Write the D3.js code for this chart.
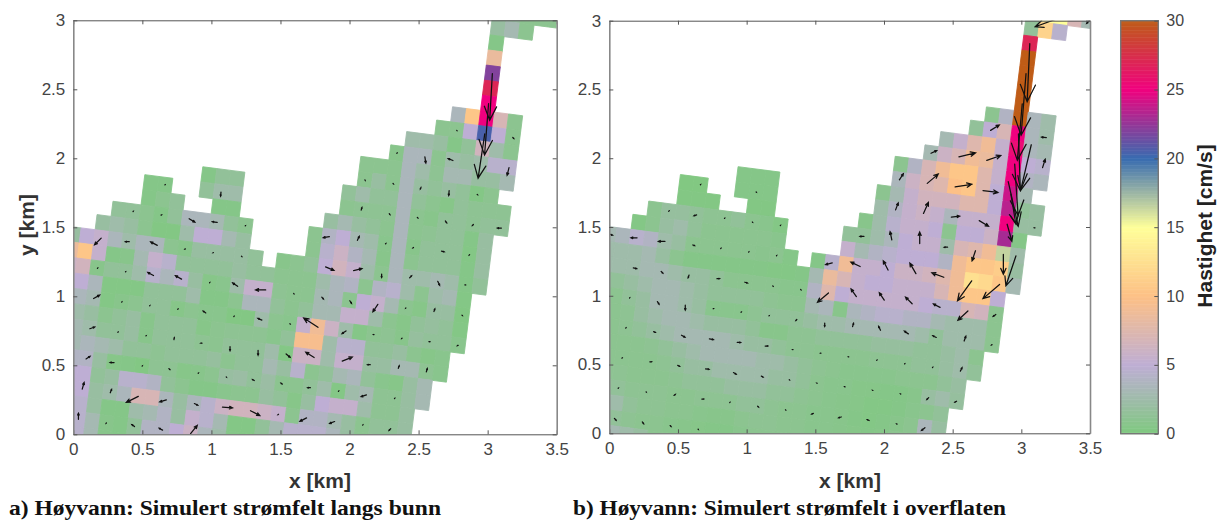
<!DOCTYPE html>
<html><head><meta charset="utf-8">
<script src="https://cdn.jsdelivr.net/npm/d3@7"></script>
<style>html,body{margin:0;padding:0;background:#fff}svg{display:block}</style>
</head><body><div id="chart"></div>
<script>
// Rows of the rotated model grid: [row, first column, speeds in cm/s]
const bottomRows = [
[-3,0,[2,2,1,1,1]],[-2,0,[2,3,1]],[-1,0,[.5]],[0,0,[8.5]],[1,0,[22]],[2,0,[27]],[3,0,[25]],
[4,-2,[3.5,10.5,25,7,1]],[5,-3,[1,1,5,20.5,5,1]],[6,-5,[2.5,2.5,2,.5,1.5,6.5,2.5,1]],
[7,-6,[.7,3.5,3.5,1,2.5,2,2.5,4.5,4.5]],[8,-8,[1,1,1,3.5,2.5,1.2,3,3,2,2,3]],
[9,-8,[1,2,1,3.5,2,1.5,2,1.5,.4,1]],[10,-19,[.5,1.5,1.5]],[10,-9,[1.5,2.5,1.5,1.5,3.5,1.5,1,.6,1.5,1.2,1.2,1.2]],
[11,-23,[.5,.5]],[11,-19,[1.5,2.5,2.5]],[11,-9,[1,1.2,1.2,1.2,3.5,1,.7,1.5,1.5,1.2,1.5,1.5]],
[12,-23,[.5,1,1.5]],[12,-18,[.5,.5]],[12,-10,[2,3,2,1.5,1,3.5,1,1.2,1.5,1.5,.5,2]],
[13,-25,[1.5,1.5,1,.5,1.5,3.5,3.5,3,1.5,1]],[13,-11,[1,4,5,3,2.5,.8,3.5,.7,1.5,1.5,1.5,.4,2]],
[14,-26,[2,2.5,2,1,.3,.3,2.5,5,5,3,2]],[14,-11,[1,4.5,6,4,3,.7,3.5,1,1.5,1.5,1.5,.5,2]],
[15,-28,[2,5,5.5,3.5,2.5,3.5,3.5,1,.7,2,2,2,2,1.5]],[15,-13,[.7,1,1.5,5,6.5,5.5,2.5,1,3.5,2.5,2.5,3,2.5,.5,1.5]],
[16,-28,[8.5,10.5,5.5,.5,.7,3,5.5,4.5,1.5,1.5,1.5,1.5,2,1.5,1.5,1,1,1,2.5,3.5,4,1,4,4.5,2.5,1,2.5,3,.4]],
[17,-28,[6,6.5,.7,1.5,1.5,2.5,4.5,3.5,4.5,2,.6,.8,2.5,5.5,5.5,1.2,1,1,3,3.5,1,5,5.5,3,1,.6,2,2,.3]],
[18,-28,[5.5,5,3.5,.4,.4,.4,1.5,1.5,1.5,2.5,.5,.5,1,3.5,3.5,1.5,1,1.5,3,3,5.5,5.5,2.5,1,.6,1.5,1.8,1.5,.4]],
[19,-28,[3,3.5,3,.4,.7,1,1.5,1.5,.6,1,.8,.8,.3,.3,2.5,1,.8,5.5,9,6,2.5,.5,1,1.2,.7,1.8,1.5,1.5,.8]],
[20,-28,[3,2.5,2,1,1.5,2,.7,1.5,1.5,1.5,.6,1,1.2,1.2,1.2,.8,1.5,9.5,9.5,2.5,4.5,4.5,1.5,1.5,2,1,.6,.8]],
[21,-28,[3,3,2.5,1.5,1.5,2,.7,1.5,1.5,1.5,1.2,1,1.5,1.5,1.5,2.5,.4,6,6,2.5,5.5,5.5,2,2,3,3,1.2,.8]],
[22,-27,[3,3.5,3,2.5,1.5,1.5,1.2,1.5,1.5,1.5,1.8,1,1.5,1.5,3,2,4.5,1,1.5,3,3.5,1.5,.8,.6,2,3]],
[23,-27,[4,4,2,.6,.5,.3,1.2,1.2,.6,.7,1,2,2.2,1.5,2.2,1,1,1.5,2.5,.4,2.5,3,1.2,1.2,2,3]],
[24,-27,[5,5,1.5,2,4.5,4.5,4,1.5,1,.5,.5,.8,1,1,2,1.5,.6,2,5,5.5,5.5,2.5,1.2,1.2,2]],
[25,-27,[5,5,2,2.5,3.5,7,7,3.5,2,3.5,4.5,6,6.5,6.5,6,5.5,1,4,4,3,2,1,1.5,1.5,2]],
[26,-26,[4.5,2,.5,.5,2.5,3,4,2,5.5,4.5,3,.4,.4,1.5,3,4.5,4.5,4.5,3.5,2,1,1.5,1.5,2]],
[27,-26,[4.5,3,.7,.5,1.5,4,4,5,6,3.5,2.5,.5,.4,.5,1,3.5,3]],
[28,-26,[4.5,3,.7,.5,1.5,4,4]]
];
const surfaceRows = [
[-3,0,[2,15,15,7,3]],[-2,0,[1.5,11.5,4.5]],[-1,0,[27]],[0,0,[30]],[1,0,[30]],[2,0,[30]],[3,0,[30]],
[4,-2,[1,4,30,3.5,2.5]],[5,-3,[1.5,5,7,25,3.5,2.5]],[6,-5,[3,5.5,7.5,9,5.5,25.5,3.5,3]],
[7,-6,[3,6,7,9,8.5,5.5,25,5,4.5]],[8,-8,[1,4,7,9,10.5,10.5,7.5,5.5,25,4,3.5]],
[9,-8,[3.5,6,7,7.5,10,10.5,7.5,5,24,3]],[10,-19,[.5,.5,.5]],[10,-9,[1,3,5.5,6.5,6.5,6.5,7.5,7.5,5,23.5,1.5,2]],
[11,-23,[.2,.2]],[11,-19,[.5,.5,.5]],[11,-9,[2.5,4,5.5,6,5.5,3.5,5.5,5.5,5.5,25,2,2]],
[12,-23,[.3,.3,.3]],[12,-18,[.3,.3]],[12,-10,[.7,2.5,4.5,5.5,5.5,5,1,5,5,6,23,.5]],
[13,-25,[1,1.8,1.8,1.5,1.2,1.2,1.5,1,.8,.4]],[13,-11,[1.5,1.5,2.5,3.5,5,5.5,5.5,2.5,7,7.5,9,16.5,2.5]],
[14,-26,[.4,1,2,2.5,1.5,1,1,1,1,1,.8]],[14,-11,[5.5,3,4,4.5,5,5,5,4,9,10.5,10.5,11,2]],
[15,-28,[3,3.5,4.5,4,2.5,2,1,1,1,1,1,.9,1,.5]],[15,-13,[.5,4.5,9,5.5,5.5,5,6,6,6.5,7.5,9,12.5,12,10.5,3]],
[16,-28,[2.5,2.5,2.5,3,2,1,.5,.5,.5,.5,.5,.5,.4,.4,.5,3,8.5,7,5.5,5,5,5.5,5.5,5.5,7,9,10.5,10.5,5]],
[17,-28,[2.5,2.5,2.5,3,3,2.5,2,2,1.5,1,1,1,1,.8,.8,4,7.5,5,5.5,5.5,5.5,5.5,5.5,5,4.5,4.5,7,6.5,1]],
[18,-28,[1.5,1.5,2,2.5,3,3,2.5,2,1.5,1.5,1.5,1.5,1.2,1,1,3,3.5,.7,3.5,4,4.5,4.5,4,4,3,2.5,2.5,2.5,1]],
[19,-28,[1,1,1.5,2,3,3,2.5,2,.8,.8,.8,1.2,1.5,1.5,1.5,2,2.5,2.5,3,3,3,3,3,2.5,1.5,2.5,2.5,2.5,1]],
[20,-28,[1,1,1.2,2,2.5,3,3,2.5,2,2,2,1.5,.7,.7,1.2,1.2,1.5,1.5,1.5,1.5,1.8,1.8,1.8,1.5,1.5,2,2.5,1]],
[21,-28,[1,1,1.2,1.5,2,2.5,3,3,3,3,2.5,2,2,1.5,1.2,1.2,1,1,1,1,1.2,1.2,1.2,1.5,1.5,2,2.5,1.5]],
[22,-27,[1,1,1,1.2,1.5,2,2.5,3,3,3,3,2.5,2.5,2,1.5,1.2,1,.8,.8,.8,.8,1,1,1,1.5,2]],
[23,-27,[1,1,1,1,1.2,1.5,2,2,2.5,2.5,2.5,2.5,2,2,1.5,1,.8,.8,.6,.6,.5,.5,.7,2,2.5,1.8]],
[24,-27,[1.2,1.2,1,1,1,1.2,1.5,1.5,1.5,2,2,2,1.5,1.5,1.2,1,.8,.7,.6,.4,.4,.5,.8,1,1.5]],
[25,-27,[1.5,1.5,1.2,1.2,1.2,1,1,1.2,1.2,1.2,1.5,1.5,1.2,1,1,.8,.8,.7,.5,.4,.5,.7,1,3.5,2]],
[26,-27,[2.5,2.5,1.5,1.2,1.2,1,1,.8,.7,.7,1,1.2,1.2,1,1,.8,.8,.7,.6,.5,.6,1,1,2,2]],
[27,-27,[2,1.5,1.2,1,1,.8,.7,.6,.5,.5,.8,1,1,1,1,.9,.9,.8]],
[28,-26,[3,2.5,2,1,1,1,1,1]]
];
// Current vectors: [column, row, east cm/s, north cm/s]
const bottomArrows = [
[0,1,-1.4,-24.6],[0,3,-2.1,-27],[0,5,-3.5,-23.3],[2,5,.5,-.5],[-2,5,.1,-.1],[2,7,-1,-4],[-2,7,-2.5,1],[-4,7,.5,-3.2],[-6,7,.1,.1],
[0,9,.2,-.2],[-2,9,-.2,-2.5],[-4,9,-.4,-1],[-6,9,.2,-.2],[-8,9,.1,-.2],[2,11,-2.1,0],[0,11,-.5,-.5],[-2,11,.7,-1],[-4,11,.3,-.3],[-6,11,.4,-.5],[-8,11,.4,1.4],[-18,11,-.2,-2.1],[-22,11,.1,.1],
[0,13,-.2,-.2],[-2,13,1.4,-.4],[-4,13,-.3,-.2],[-6,13,.2,.2],[-8,13,1,2.1],[-10,13,-3.2,-.5],[-16,13,.1,.1],[-18,13,-2.6,.3],[-20,13,3,-1.8],[-22,13,.2,.1],[-24,13,.1,.1],
[0,15,-.3,0],[-2,15,1,-2.1],[-4,15,1,1],[-6,15,0,-1.8],[-8,15,4.4,1],[-10,15,4.4,-1.8],[-16,15,.2,-.2],[-18,15,-.2,-.1],[-20,15,-.2,-.1],[-22,15,-3.5,1.8],[-24,15,-2.1,0],[-26,15,-3.5,-3.5],
[0,17,.2,-.2],[-2,17,.5,1.4],[-4,17,-.1,-.1],[-6,17,-2.6,-3.9],[-8,17,.9,-1.4],[-10,17,.9,-1],[-12,17,.1,-.1],[-14,17,-5.3,0],[-16,17,-2.6,1.8],[-18,17,.1,.1],[-20,17,-3.2,1.8],[-22,17,-3,1.6],[-24,17,.1,.1],[-26,17,.1,.1],
[0,19,-.4,-.2],[-2,19,-.4,0],[-4,19,-.2,-.2],[-6,19,-.3,0],[-8,19,-2.1,-1.4],[-10,19,-7.5,4.9],[-12,19,.1,-.1],[-14,19,-2.1,.9],[-16,19,.1,.1],[-18,19,-1.4,1],[-20,19,.1,.1],[-22,19,.1,.1],[-24,19,.1,.1],[-26,19,3.2,1.8],
[-2,21,.5,1.8],[-4,21,.5,1.4],[-6,21,-1.4,0],[-8,21,5.3,2.1],[-10,21,-4.4,2.8],[-12,21,2.1,-1.8],[-14,21,0,-2.6],[-16,21,0,-2.1],[-18,21,-.7,0],[-20,21,.2,1],[-22,21,.1,.1],[-24,21,.1,.1],[-26,21,2.6,.9],
[-4,23,.1,.1],[-6,23,-2.8,-.9],[-8,23,.1,.1],[-10,23,-1.4,0],[-12,23,-.7,.5],[-14,23,-.9,.5],[-16,23,.1,-.1],[-18,23,.1,.1],[-20,23,-.5,.4],[-22,23,.1,.1],[-24,23,-2.1,0],[-26,23,2.1,1.4],
[-4,25,-.9,-.9],[-6,25,.1,.1],[-8,25,-2.6,-1],[-10,25,-3.5,-1.8],[-12,25,-.3,-.2],[-14,25,4.9,-2.5],[-16,25,5.3,-.4],[-18,25,1.8,-.9],[-20,25,-3.5,-1],[-22,25,-6.3,-3.2],[-24,25,.7,1.8],[-26,25,1,3.5],
[-18,27,3.5,4.4],[-20,27,-1.8,1],[-22,27,-1.4,1],[-24,27,-.2,-.2],[-26,27,0,3.2]
];
const surfaceArrows = [
[0,-1,-1.4,-30.7],[2,-3,-13.9,-5.1],[4,-3,-1.4,-1.4],[0,1,-2.6,-32.5],[0,3,-2.6,-29.8],[0,5,1,-30],[1,5.6,-5.6,-24],[2,5,-2.5,.2],[-2,5,4.6,2.8],
[0,7,1.8,-27.2],[-.3,8.2,5.3,-23.7],[2,7,1.4,4.4],[-2,7,7.4,2.6],[-4,7,8.8,2.1],[-6,7,3,1.4],
[0,9,2.6,-15.8],[-2,9,7.9,-1],[-4,9,8.8,1.4],[-6,9,5.8,4.9],[-8,9,2.1,3.2],
[0,11,2.5,-9],[2,11,-.4,0],[-2,11,4.9,-3],[-4,11,4.4,.5],[-6,11,2.6,5.8],[-8,11,1.4,3.7],[-18,11,.1,-.1],[-22,11,.1,.1],
[0,13,0,-10.5],[.9,13,-5.3,-15.8],[-2,13,-1.8,-5.3],[-4,13,-1.8,0],[-6,13,0,6.1],[-8,13,-.9,4.4],[-10,13,-2.1,0],[-16,13,.1,.1],[-18,13,.1,-.1],[-20,13,.1,.1],[-22,13,-1.4,-.5],[-24,13,.2,.2],
[0,15,-8.8,-7.5],[-2,15,-7.5,-10.5],[-4,15,-6.3,2.3],[-6,15,-3.2,5.6],[-8,15,-2.5,4.9],[-10,15,-4.9,2.3],[-12,15,-3.5,-.9],[-16,15,.1,.1],[-18,15,.1,.1],[-20,15,.1,.1],[-22,15,.9,-.4],[-24,15,-3.5,0],[-26,15,-3.2,0],[-28,15,1.8,-.5],
[0,17,-1.4,-1],[-2,17,-5.3,-4.9],[-4,17,-3.5,1.8],[-6,17,-3.5,3.5],[-8,17,-2.6,3.9],[-10,17,-2.8,4],[-12,17,-5.8,-4.9],[-14,17,.2,-.2],[-16,17,.2,-.2],[-18,17,1.4,-.4],[-20,17,1.4,0],[-22,17,-.5,-1.4],[-24,17,.9,-.9],[-26,17,1.8,-.4],
[0,19,-.3,-.2],[-2,19,.9,2.5],[-4,19,-1.8,.9],[-6,19,-2.1,1.4],[-8,19,-1,2.1],[-10,19,.5,1.8],[-12,19,0,-1.8],[-14,19,-.5,-.5],[-16,19,.1,.1],[-18,19,.1,.1],[-20,19,.2,.1],[-22,19,0,-2.6],[-24,19,.9,-1.4],[-26,19,.1,.1],
[-2,21,.9,1.8],[-4,21,.1,.1],[-6,21,.1,.1],[-8,21,.1,.1],[-10,21,-.2,0],[-12,21,-.2,0],[-14,21,-.2,0],[-16,21,1.4,0],[-18,21,1.8,0],[-20,21,2.1,-.4],[-22,21,1.8,-1],[-24,21,.9,-.4],[-26,21,.1,.1],
[-2,23,-.9,-.5],[-4,23,-1,-1],[-6,23,-.2,.1],[-8,23,-.2,.1],[-10,23,-.2,.1],[-12,23,-.2,.1],[-14,23,.1,-.1],[-16,23,.9,-.5],[-18,23,1.4,-.9],[-20,23,1.8,-.2],[-22,23,1,-.5],[-24,23,.9,0],[-26,23,.1,.1],
[-4,25,-1.8,-1.4],[-6,25,-.2,.1],[-8,25,-1,.5],[-10,25,-1.4,-.4],[-12,25,-.9,-.4],[-14,25,.1,-.1],[-16,25,.5,-.5],[-18,25,.1,.1],[-20,25,1,0],[-22,25,.7,.5],[-24,25,.1,-.1],[-26,25,.1,.1],
[-20,27,.1,-.1],[-22,27,.5,-.5],[-24,27,.7,-.9],[-26,27,.9,-1]
];
const xTicks = [0,.5,1,1.5,2,2.5,3,3.5];
const yTicks = [0,.5,1,1.5,2,2.5,3];
const speedTicks = [0,5,10,15,20,25,30];
const speedColours = d3.schemeAccent.slice(0,7);
const captions = ["a) Høyvann: Simulert strømfelt langs bunn","b) Høyvann: Simulert strømfelt i overflaten"];

// grid geometry in km
const grid = {ox:3.004, oy:2.785, ux:.10152, uy:-.01304, vx:-.01375, vy:-.10942};
const arrowKm = 0.01375; // km of arrow per cm/s

const W=1223,H=521;
const svg=d3.select("#chart").append("svg").attr("width",W).attr("height",H)
  .style("font-family","'Liberation Sans',Arial,sans-serif");
const defs=svg.append("defs");
defs.append("filter").attr("id","soft").attr("x","-2%").attr("y","-2%").attr("width","104%").attr("height","104%")
  .append("feGaussianBlur").attr("stdDeviation",.45);

const colour=d3.scaleLinear().domain(speedTicks).range(speedColours).clamp(true);

function panel(id,box,rows,arrows,caption,capBox,xLabelX){
  const x=d3.scaleLinear().domain([0,3.5]).range([box.l,box.r]);
  const y=d3.scaleLinear().domain([0,3]).range([box.b,box.t]);
  defs.append("clipPath").attr("id","clip"+id).append("rect")
    .attr("x",box.l).attr("y",box.t).attr("width",box.r-box.l).attr("height",box.b-box.t);
  const cx=(i,j)=>x(grid.ox+i*grid.ux+j*grid.vx), cy=(i,j)=>y(grid.oy+i*grid.uy+j*grid.vy);
  const cells=rows.flatMap(([j,s,vals])=>vals.map((v,k)=>({i:s+k,j,v})));
  const plot=svg.append("g").attr("clip-path",`url(#clip${id})`);
  const soft=plot.append("g").attr("filter","url(#soft)");
  soft.selectAll("path").data(cells).join("path")
    .attr("d",d=>{const p=[[0,0],[1,0],[1,1],[0,1]].map(([a,b])=>[cx(d.i+a,d.j+b),cy(d.i+a,d.j+b)]);return d3.line()(p)+"Z";})
    .attr("fill",d=>colour(d.v)).attr("stroke",d=>colour(d.v)).attr("stroke-width",.9);
  plot.append("g").selectAll("path").data(arrows).join("path")
    .attr("fill","none").attr("stroke","#111").attr("stroke-width",1.25).attr("stroke-linecap","round")
    .attr("d",([i,j,u,v])=>{
      const kmx=grid.ox+(i+.5)*grid.ux+(j+.5)*grid.vx, kmy=grid.oy+(i+.5)*grid.uy+(j+.5)*grid.vy;
      const x0=x(kmx),y0=y(kmy),x1=x(kmx+u*arrowKm),y1=y(kmy+v*arrowKm);
      const a=Math.atan2(y1-y0,x1-x0),len=Math.hypot(x1-x0,y1-y0),h=len*.32,s=.42;
      const bx=t=>x1-h*Math.cos(a+t),by=t=>y1-h*Math.sin(a+t);
      return `M${x0},${y0}L${x1},${y1}M${bx(s)},${by(s)}L${x1},${y1}L${bx(-s)},${by(-s)}`;
    });
  const axisG=svg.append("g");
  const style=g=>{g.select(".domain").attr("stroke","#555").attr("stroke-width",1);
    g.selectAll(".tick line").attr("stroke","#555");
    g.selectAll("text").attr("fill","#444").style("font-size","17px");};
  axisG.append("g").attr("transform",`translate(0,${box.b})`)
    .call(d3.axisBottom(x).tickValues(xTicks).tickFormat(d3.format("~g")).tickSizeInner(-4).tickSizeOuter(0).tickPadding(9)).call(style);
  axisG.append("g").attr("transform",`translate(0,${box.t})`)
    .call(d3.axisTop(x).tickValues(xTicks).tickFormat("").tickSizeInner(-4).tickSizeOuter(0)).call(style);
  axisG.append("g").attr("transform",`translate(${box.l},0)`)
    .call(d3.axisLeft(y).tickValues(yTicks).tickFormat(d3.format("~g")).tickSizeInner(-4).tickSizeOuter(0).tickPadding(8)).call(style)
    .select(".domain").attr("stroke","#888").attr("stroke-width",1.6);
  axisG.append("g").attr("transform",`translate(${box.r},0)`)
    .call(d3.axisRight(y).tickValues(yTicks).tickFormat("").tickSizeInner(-4).tickSizeOuter(0)).call(style)
    .select(".domain").attr("stroke","#888").attr("stroke-width",1.6);
  svg.append("text").attr("x",xLabelX).attr("y",488).attr("text-anchor","middle")
    .attr("font-size",21).attr("font-weight","bold").attr("fill","#333").text("x [km]");
  svg.append("text").attr("x",capBox.x).attr("y",515).attr("textLength",capBox.w)
    .attr("lengthAdjust","spacingAndGlyphs")
    .style("font-family","'Liberation Serif',serif").attr("font-size",21).attr("font-weight","bold").attr("fill","#111").text(caption);
}
panel("A",{l:73.3,r:556.7,t:20.3,b:434.3},bottomRows,bottomArrows,captions[0],{x:9,w:432},320);
panel("B",{l:609.3,r:1090,t:20.7,b:433.3},surfaceRows,surfaceArrows,captions[1],{x:573,w:433},850);

svg.append("text").attr("transform","translate(34,225) rotate(-90)").attr("text-anchor","middle")
  .attr("font-size",21).attr("font-weight","bold").attr("fill","#333").text("y [km]");

// colour bar
const cb={l:1120.7,r:1158.3,t:20.7,b:433.7};
const s=d3.scaleLinear().domain([0,30]).range([cb.b,cb.t]);
svg.append("g").selectAll("rect").data(d3.range(0,30,.1)).join("rect")
  .attr("x",cb.l).attr("width",cb.r-cb.l).attr("y",d=>s(d+.1)).attr("height",d=>s(d)-s(d+.1)+.5)
  .attr("fill",d=>colour(d+.05));
svg.append("rect").attr("x",cb.l).attr("y",cb.t).attr("width",cb.r-cb.l).attr("height",cb.b-cb.t)
  .attr("fill","none").attr("stroke","#777").attr("stroke-width",1.4);
const cbAxis=svg.append("g").attr("transform",`translate(${cb.r},0)`)
  .call(d3.axisRight(s).tickValues(speedTicks).tickSizeInner(-4).tickSizeOuter(0).tickPadding(8));
cbAxis.select(".domain").remove();
cbAxis.selectAll(".tick line").attr("stroke","#555");
cbAxis.selectAll("text").attr("fill","#444").style("font-size","16px");
svg.append("text").attr("transform","translate(1212,226) rotate(-90)").attr("text-anchor","middle")
  .attr("font-size",21).attr("font-weight","bold").attr("fill","#222").text("Hastighet [cm/s]");
</script></body></html>
